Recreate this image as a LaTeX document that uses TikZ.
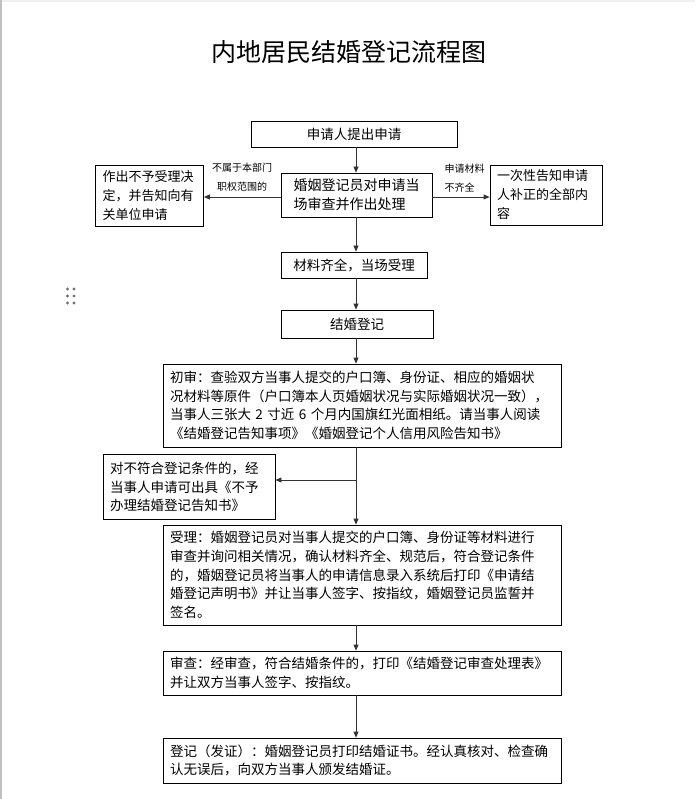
\documentclass[tikz,border=0pt]{standalone}
\usepackage{fontspec}
\setmainfont{Noto Sans CJK SC}
\usetikzlibrary{arrows.meta}

\begin{document}
\begin{tikzpicture}[x=1pt, y=-1pt,
    box/.style={draw, line width=0.8pt, inner xsep=7pt, inner ysep=2pt, align=left, font=\fontsize{13.5}{18.7}\selectfont},
    arr/.style={draw=black!80, line width=0.8pt, -{Triangle[length=6pt,width=5pt]}},
    lbl/.style={font=\fontsize{10}{19}\selectfont, align=left}]
    \useasboundingbox (0,0) rectangle (695,799);
    \fill[black!6] (0,0) rectangle (695,2.5);
    \draw[black!25, line width=1.5pt] (1,0) -- (1,799);
    \foreach \dy in {289,296,303} {
        \fill[black!55] (67.5,\dy) circle (1.6);
        \fill[black!55] (74,\dy) circle (1.6);
    }

    \node[font=\fontsize{25}{28}\selectfont] (title) at (349,52) {内地居民结婚登记流程图};

    \coordinate (spine) at (356,0);

    \node[box, minimum width=206, minimum height=26, align=center] (apply) at (354,134) {申请人提出申请};
    \node[box, minimum width=151, minimum height=44, font=\fontsize{14}{19}\selectfont] (review) at (356.5,195) {婚姻登记员对申请当\\场审查并作出处理};
    \node[box, text width=94, minimum height=61, font=\fontsize{13}{19}\selectfont] (reject) at (149.5,195.5) {作出不予受理决\\定，并告知向有\\关单位申请};
    \node[box, text width=98, minimum height=60, font=\fontsize{13}{19}\selectfont] (notify) at (546,195) {一次性告知申请\\人补正的全部内\\容};
    \node[box, minimum width=146, minimum height=26, align=center] (accept) at (354,265) {材料齐全，当场受理};
    \node[box, minimum width=152, minimum height=28, align=center] (register) at (357,324) {结婚登记};
    \node[box, text width=384, minimum height=83] (prelim) at (362,405.5) {初审：查验双方当事人提交的户口簿、身份证、相应的婚姻状\\况材料等原件（户口簿本人页婚姻状况与实际婚姻状况一致），\\当事人三张大 2 寸近 6 个月内国旗红光面相纸。请当事人阅读\\《结婚登记告知事项》《婚姻登记个人信用风险告知书》};
    \node[box, text width=158, minimum height=65] (refuse) at (189,487) {对不符合登记条件的，经\\当事人申请可出具《不予\\办理结婚登记告知书》};
    \node[box, text width=384, minimum height=100] (handle) at (362,575) {受理：婚姻登记员对当事人提交的户口簿、身份证等材料进行\\审查并询问相关情况，确认材料齐全、规范后，符合登记条件\\的，婚姻登记员将当事人的申请信息录入系统后打印《申请结\\婚登记声明书》并让当事人签字、按指纹，婚姻登记员监誓并\\签名。};
    \node[box, text width=384, minimum height=44] (check) at (362,673) {审查：经审查，符合结婚条件的，打印《结婚登记审查处理表》\\并让双方当事人签字、按指纹。};
    \node[box, text width=384, minimum height=45] (issue) at (362,760.5) {登记（发证）：婚姻登记员打印结婚证书。经认真核对、检查确\\认无误后，向双方当事人颁发结婚证。};

    \draw[arr] (apply.south -| spine) -- (review.north -| spine);
    \draw[arr] (review.west |- 0,197) -- (reject.east |- 0,197);
    \draw[arr] (review.east |- 0,197) -- (notify.west |- 0,197);
    \draw[arr] (review.south -| spine) -- (accept.north -| spine);
    \draw[arr] (accept.south -| spine) -- (register.north -| spine);
    \draw[arr] (register.south -| spine) -- (prelim.north -| spine);
    \draw[arr] (prelim.south -| spine) -- (handle.north -| spine);
    \coordinate (fork) at (356,480);
    \draw[arr] (fork) -- (fork -| refuse.east);
    \draw[arr] (handle.south -| spine) -- (check.north -| spine);
    \draw[arr] (check.south -| spine) -- (issue.north -| spine);

    \node[lbl, align=center] (outside) at (242,177.5) {不属于本部门\\职权范围的};
    \node[lbl, anchor=west] (missing) at (441,178) {申请材料\\不齐全};
\end{tikzpicture}
\end{document}
